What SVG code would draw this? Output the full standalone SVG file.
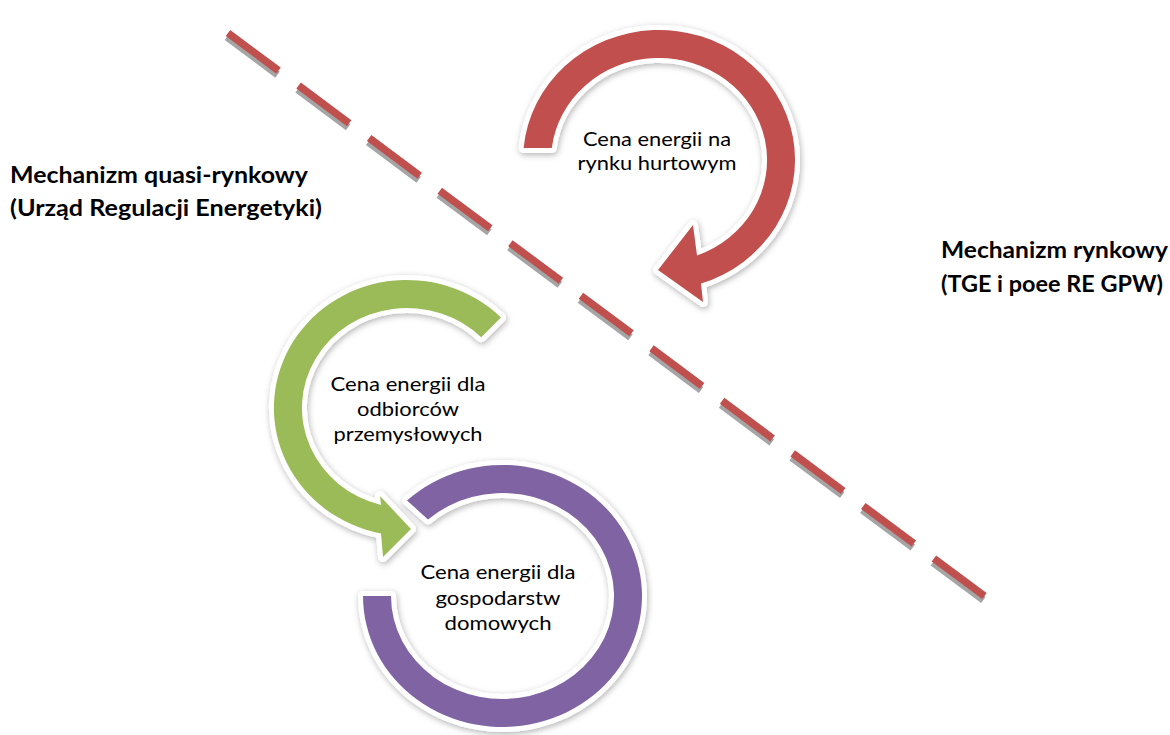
<svg xmlns="http://www.w3.org/2000/svg" width="1170" height="735" viewBox="0 0 1170 735">
  <defs>
    <filter id="sh" x="-20%" y="-20%" width="140%" height="140%">
      <feDropShadow dx="1" dy="2" stdDeviation="3" flood-color="#000" flood-opacity="0.3"/>
    </filter>
  </defs>
  <style>
    .arc { stroke: #ffffff; stroke-width: 10; paint-order: stroke; stroke-linejoin: round; }
    .lbl { font-family: Lato, "Liberation Sans", sans-serif; font-size: 20px; fill: #000; text-anchor: middle; }
    .side { font-family: Lato, "Liberation Sans", sans-serif; font-size: 22px; font-weight: bold; fill: #000; }
  </style>
  <rect width="1170" height="735" fill="#ffffff"/>

  <g id="connectors">
    <line x1="227" y1="37" x2="986" y2="602" stroke="#a5a5a5" stroke-width="7.5" stroke-dasharray="63 25"/>
    <line x1="228" y1="33" x2="987" y2="598" stroke="#c0504d" stroke-width="7.5" stroke-dasharray="63 25"/>
  </g>

  <g id="node-hurtowy">
    <path class="arc" filter="url(#sh)" fill="#c0504d" d="M523.6,148 A136,130 0 1 1 701,283.6 L703,302 L658,270 L693,225 L697,255.5 A108,102 0 1 0 551.8,148 Z"/>
    <text class="lbl" x="657" y="146" textLength="148" lengthAdjust="spacingAndGlyphs">Cena energii na</text>
    <text class="lbl" x="657" y="170" textLength="159" lengthAdjust="spacingAndGlyphs">rynku hurtowym</text>
  </g>

  <g id="node-przemyslowi">
    <path class="arc" filter="url(#sh)" fill="#9bbb59" d="M501,317.5 A133,128 0 1 0 381,533.5 L383,557 L411,529 L380,496 L381,504.9 A105,100 0 1 1 481.2,337.3 Z"/>
    <text class="lbl" x="408" y="391" textLength="155" lengthAdjust="spacingAndGlyphs">Cena energii dla</text>
    <text class="lbl" x="408" y="416" textLength="102" lengthAdjust="spacingAndGlyphs">odbiorców</text>
    <text class="lbl" x="408" y="441" textLength="149" lengthAdjust="spacingAndGlyphs">przemysłowych</text>
  </g>

  <g id="node-domowe">
    <path class="arc" filter="url(#sh)" fill="#8064a2" d="M407,500.5 A139.5,131 0 1 1 363,596 L391,596 A111.5,103 0 1 0 428,519.4 Z"/>
    <text class="lbl" x="498" y="579" textLength="155" lengthAdjust="spacingAndGlyphs">Cena energii dla</text>
    <text class="lbl" x="498" y="605" textLength="125" lengthAdjust="spacingAndGlyphs">gospodarstw</text>
    <text class="lbl" x="498" y="630" textLength="107" lengthAdjust="spacingAndGlyphs">domowych</text>
  </g>

  <g id="label-quasi">
    <text class="side" x="10" y="183" textLength="298" lengthAdjust="spacingAndGlyphs">Mechanizm quasi-rynkowy</text>
    <text class="side" x="10" y="216" textLength="312" lengthAdjust="spacingAndGlyphs">(Urząd Regulacji Energetyki)</text>
  </g>

  <g id="label-rynkowy">
    <text class="side" x="941" y="258" textLength="227" lengthAdjust="spacingAndGlyphs">Mechanizm rynkowy</text>
    <text class="side" x="941" y="292" textLength="222" lengthAdjust="spacingAndGlyphs">(TGE i poee RE GPW)</text>
  </g>
</svg>
